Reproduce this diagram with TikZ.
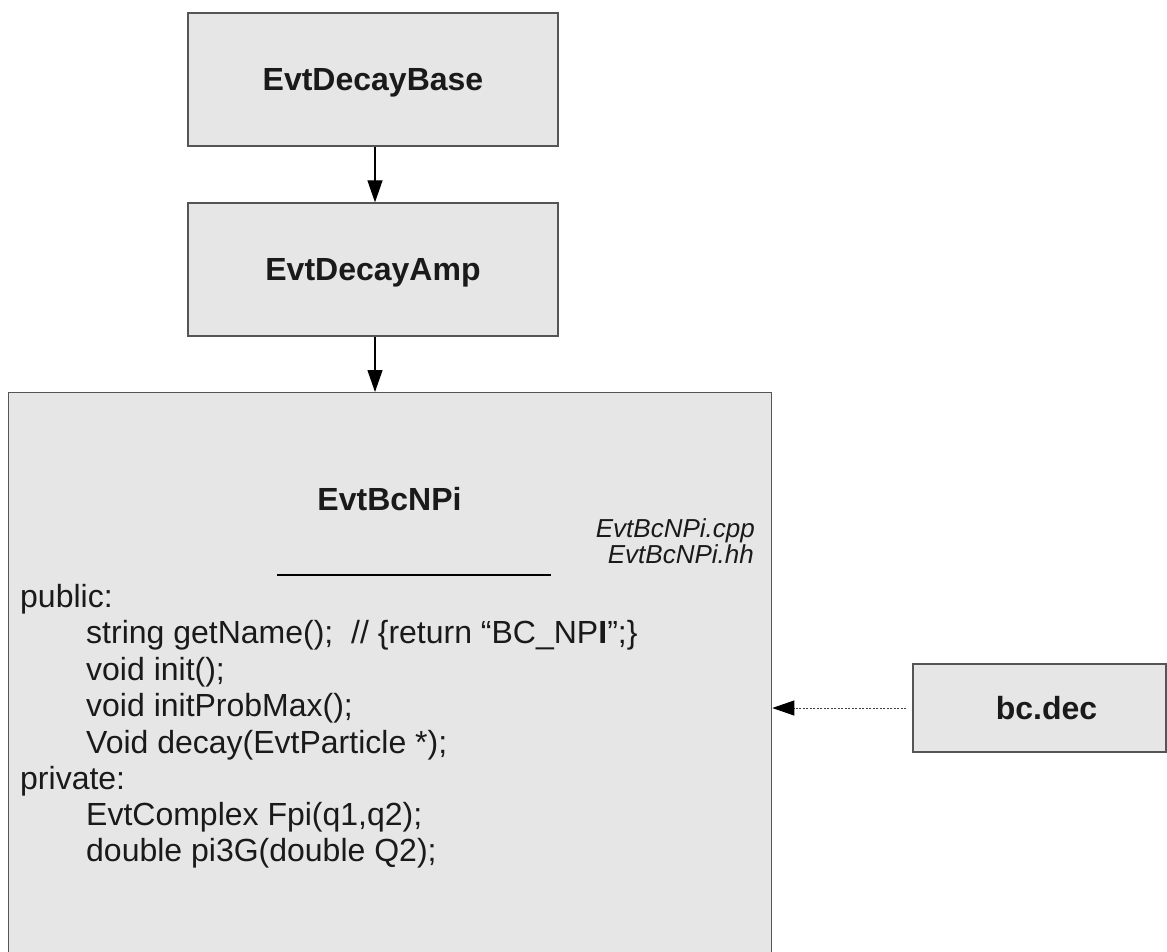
\documentclass[tikz,border=0pt]{standalone}
\usepackage{fontspec}
\setmainfont{Liberation Sans}
\usetikzlibrary{arrows.meta}
\definecolor{boxfill}{RGB}{230,230,230}
\definecolor{boxline}{RGB}{85,85,85}
\definecolor{ink}{RGB}{26,26,26}
\begin{document}
\begin{tikzpicture}[x=1pt,y=-1pt,
  every node/.style={text=ink, inner sep=0pt, font=\fontsize{32}{36}\selectfont},
  classbox/.style={draw=boxline, line width=1.3pt, fill=boxfill, inner sep=0pt,
    text depth=0pt, font=\fontsize{32}{36}\selectfont\bfseries},
  codeline/.style={anchor=base west},
  fileline/.style={anchor=base east, font=\fontsize{26}{30}\selectfont\itshape},
  arr/.style={draw=black, line width=1.2pt, -{Triangle[length=22pt,width=15pt]}},
  darr/.style={draw=black!75, line width=1pt, dash pattern=on 2pt off 1.5pt,
    -{Triangle[length=22pt,width=15pt,color=black]}}]
\useasboundingbox (0,0) rectangle (1167,951);
\clip (0,0) rectangle (1167,951);
\fill[white] (0,0) rectangle (1167,951);
% boxes
\node[classbox, minimum width=370pt, minimum height=133pt] (base) at (373,79.5) {EvtDecayBase};
\node[classbox, minimum width=370pt, minimum height=133pt] (amp) at (373,269.5) {EvtDecayAmp};
\node[classbox, minimum width=763pt, minimum height=580pt, anchor=north west] (cls) at (8,392) {};
\node[classbox, minimum width=253pt, minimum height=88pt] (bc) at (1039.5,708) {\hspace*{14pt}bc.dec};
% class contents
\node[anchor=base, font=\fontsize{32}{36}\selectfont\bfseries] (title) at (389.5,510) {EvtBcNPi};
\node[fileline] (cpp) at (755,537) {EvtBcNPi.cpp};
\node[fileline] (hh) at (754,563) {EvtBcNPi.hh};
\draw[line width=2pt, black] (277,575) -- (551,575);
\node[codeline] (pub) at (20,607) {public:};
\node[codeline] (l1) at (86,643) {string getName();~ // \{return “BC\_NP\textbf{I}”;\}};
\node[codeline] (l2) at (86,680) {void init();};
\node[codeline] (l3) at (86,716) {void initProbMax();};
\node[codeline] (l4) at (86,753) {Void decay(EvtParticle *);};
\node[codeline] (priv) at (20,789) {private:};
\node[codeline] (l5) at (86,825) {EvtComplex Fpi(q1,q2);};
\node[codeline] (l6) at (86,861) {double pi3G(double Q2);};
% connectors
\draw[arr] ([xshift=2pt]base.south) -- ([xshift=2pt]amp.north);
\draw[arr] ([xshift=2pt]amp.south) -- ([xshift=2pt]amp.south |- cls.north);
\draw[darr] ([xshift=-6pt]bc.west) -- (bc.west -| cls.east);
\end{tikzpicture}
\end{document}
